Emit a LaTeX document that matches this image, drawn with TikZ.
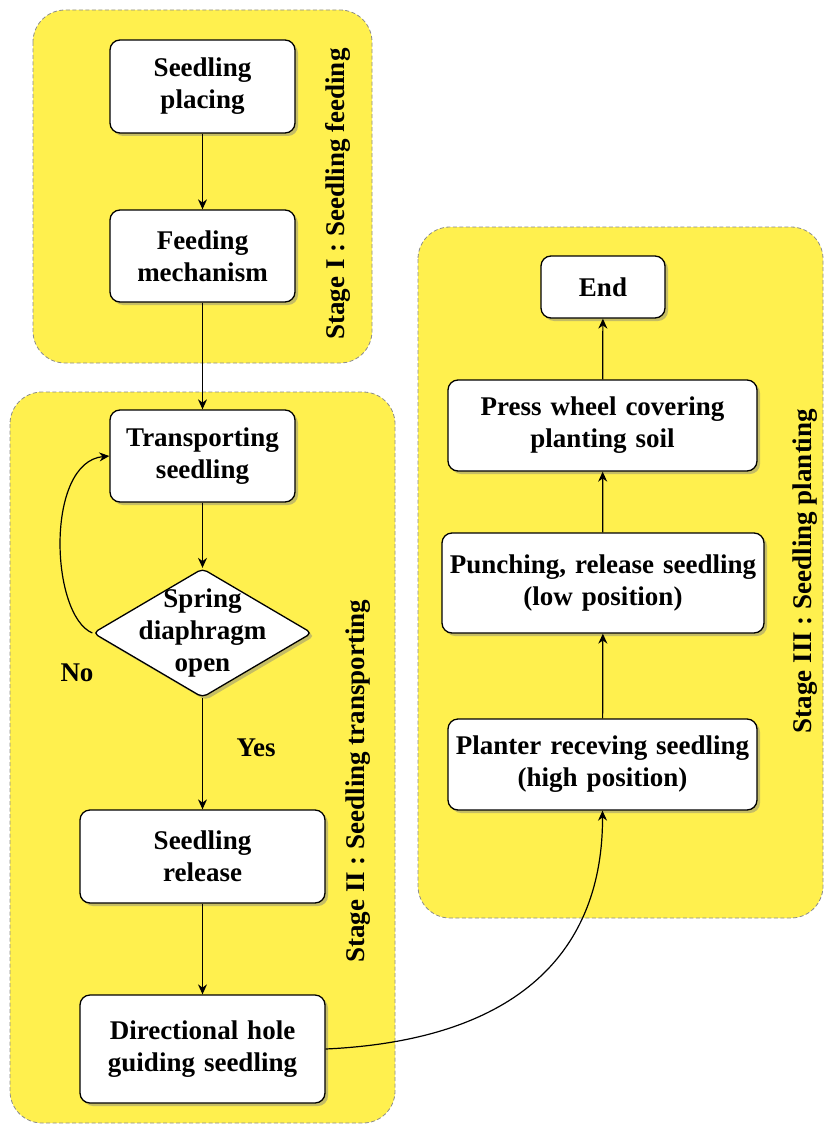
\documentclass[tikz,border=0pt]{standalone}
\usepackage{fontspec}
\setmainfont{Liberation Serif}
\usetikzlibrary{arrows.meta,shapes.geometric,shadows}
\definecolor{StageYellow}{RGB}{255,240,78}
\definecolor{StageEdge}{RGB}{140,140,140}

\begin{document}
\begin{tikzpicture}[x=1pt,y=-1pt,
    stagebox/.style={fill=StageYellow,draw=StageEdge,line width=.8pt,
      dash pattern=on 4pt off 2.5pt,rounded corners=32pt},
    stagelabel/.style={rotate=90,font=\fontsize{27}{31}\selectfont\bfseries},
    procbox/.style={draw,fill=white,line width=1.3pt,rounded corners=10pt,
      align=center,inner sep=0pt,font=\fontsize{27}{32}\selectfont\bfseries,
      drop shadow={shadow xshift=3pt,shadow yshift=-3pt,opacity=.45}},
    decision/.style={procbox,diamond,rounded corners=5pt},
    flow/.style={-{Stealth[length=10pt,width=9pt]},line width=1.2pt},
    answer/.style={font=\fontsize{27}{32}\selectfont\bfseries}]
  \useasboundingbox (0,0) rectangle (825,1126);
  \draw[stagebox] (33,10) rectangle (372,363);
  \draw[stagebox] (10,392) rectangle (395,1123);
  \draw[stagebox] (418,227) rectangle (823,918);
  \node[stagelabel] (stageone) at (338,194) {Stage I : Seedling\ feeding};
  \node[stagelabel] (stagetwo) at (358,781) {Stage II : Seedling transporting};
  \node[stagelabel] (stagethree) at (805,571) {Stage III : Seedling planting};

  \node[procbox,minimum width=185pt,minimum height=93pt,text width=175pt] (placing) at (202.5,86.5) {Seedling\\placing};
  \node[procbox,minimum width=185pt,minimum height=92pt,text width=175pt] (feeding) at (202.5,256) {Feeding\\mechanism};
  \node[procbox,minimum width=185pt,minimum height=92pt,text width=175pt] (transport) at (202.5,456) {Transporting\\seedling};
  \node[decision,minimum width=219pt,minimum height=129pt,
    label={[answer,align=center]center:{Spring\\diaphragm\\open}}] (spring) at (202.5,633) {};
  \node[procbox,minimum width=245pt,minimum height=93pt,text width=235pt] (release) at (202.5,856.5) {Seedling\\release};
  \node[procbox,minimum width=245pt,minimum height=108pt,text width=235pt] (guide) at (202.5,1049) {Directional hole\\guiding seedling};
  \node[answer] (no) at (77,673) {No};
  \node[answer] (yes) at (256,748) {Yes};

  \node[procbox,minimum width=309pt,minimum height=91pt,text width=300pt] (planter) at (602.5,764.5) {Planter receving seedling\\(high position)};
  \node[procbox,minimum width=322pt,minimum height=100pt,text width=314pt] (punch) at (603,583) {Punching, release seedling\\(low position)};
  \node[procbox,minimum width=309pt,minimum height=91pt,text width=300pt] (press) at (602.5,425.5) {Press wheel covering\\planting soil};
  \node[procbox,minimum width=124pt,minimum height=62pt,text width=114pt] (finish) at (603,287) {End};

  \draw[flow] (placing) -- (feeding);
  \draw[flow] (feeding) -- (transport);
  \draw[flow] (transport) -- (spring);
  \draw[flow] (spring) -- (release);
  \draw[flow] (release) -- (guide);
  \draw[flow] (spring.west) .. controls (50,615) and (45,462) .. (transport.west);
  \draw[flow] (guide.east) .. controls (520,1040) and (603,950) .. (planter.south);
  \draw[flow] (planter) -- (punch);
  \draw[flow] (punch) -- (press);
  \draw[flow] (press) -- (finish);
\end{tikzpicture}
\end{document}
